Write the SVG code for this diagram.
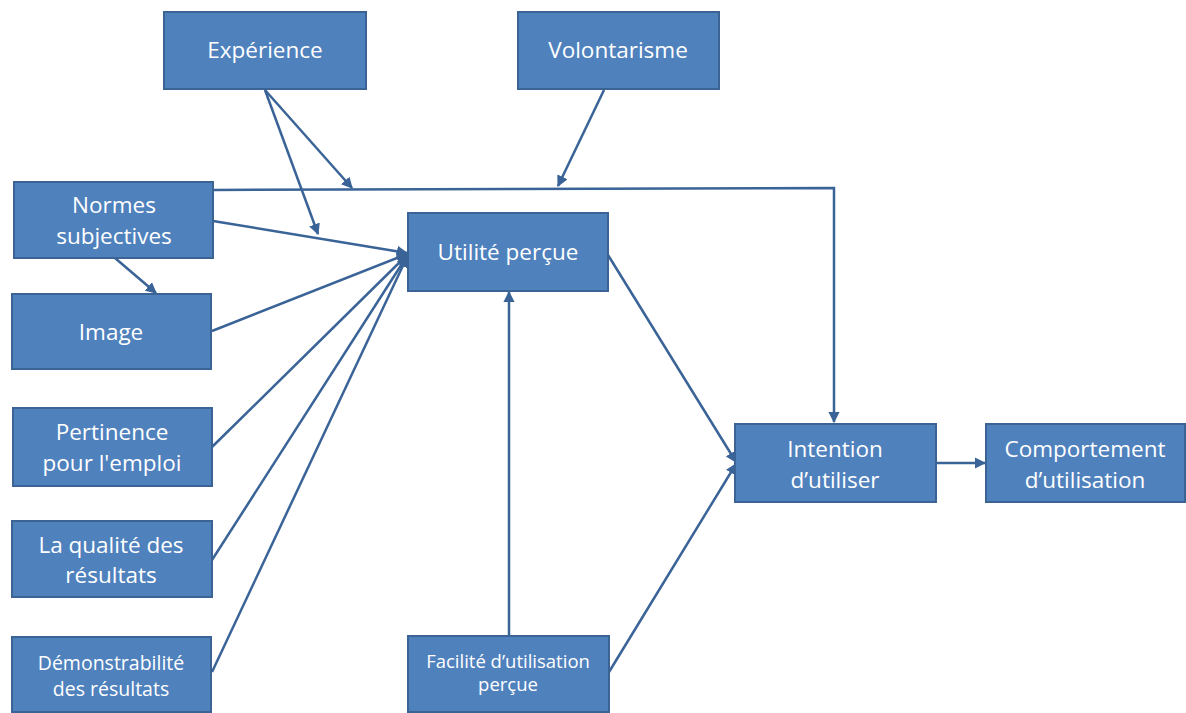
<svg xmlns="http://www.w3.org/2000/svg" width="1186" height="713" viewBox="0 0 1186 713">
<defs>
<marker id="ah" viewBox="0 0 10 10" refX="9" refY="5" markerWidth="4.5" markerHeight="4.5" orient="auto" markerUnits="strokeWidth">
<path d="M0,0 L10,5 L0,10 z" fill="#3A6397"/>
</marker>
</defs>
<style>
.box{fill:#4F81BD;stroke:#3B6494;stroke-width:2}
.t{fill:#ffffff;font-family:"Open Sans","Liberation Sans",sans-serif;font-size:22.5px;text-anchor:middle}
.s{font-size:18.5px}
.d{font-size:19.5px}
.c{fill:none;stroke:#3A6397;stroke-width:2.5}
.a{marker-end:url(#ah)}
</style>
<rect width="1186" height="713" fill="#ffffff"/>
<g id="connectors">
<line class="c a" x1="265" y1="90" x2="352" y2="188"/>
<line class="c a" x1="265" y1="90" x2="318" y2="234"/>
<line class="c a" x1="604" y1="90" x2="558" y2="186"/>
<polyline class="c a" points="213,190 834,188 834,422"/>
<line class="c a" x1="213" y1="221" x2="407" y2="253"/>
<line class="c a" x1="115" y1="258" x2="156" y2="293"/>
<line class="c a" x1="212" y1="331" x2="407" y2="254"/>
<line class="c a" x1="212" y1="447" x2="407" y2="255"/>
<line class="c a" x1="212" y1="560" x2="407" y2="256"/>
<line class="c a" x1="212" y1="672" x2="407" y2="257"/>
<line class="c a" x1="608" y1="255" x2="736" y2="462"/>
<line class="c a" x1="509" y1="636" x2="509" y2="292"/>
<line class="c a" x1="609" y1="672" x2="736" y2="464"/>
<line class="c a" x1="936" y1="463" x2="985" y2="463"/>
</g>
<g id="experience"><rect class="box" x="164" y="12" width="202" height="77"/><text class="t" x="265" y="58">Expérience</text></g>
<g id="volontarisme"><rect class="box" x="518" y="12" width="201" height="77"/><text class="t" x="618" y="58">Volontarisme</text></g>
<g id="normes"><rect class="box" x="14" y="182" width="199" height="76"/><text class="t" x="114" y="213">Normes</text><text class="t" x="114" y="244">subjectives</text></g>
<g id="image"><rect class="box" x="12" y="294" width="199" height="75"/><text class="t" x="111" y="340">Image</text></g>
<g id="pertinence"><rect class="box" x="13" y="408" width="199" height="78"/><text class="t" x="112" y="440">Pertinence</text><text class="t" x="112" y="471">pour l'emploi</text></g>
<g id="qualite"><rect class="box" x="12" y="521" width="200" height="76"/><text class="t" x="111" y="553">La qualité des</text><text class="t" x="111" y="583">résultats</text></g>
<g id="demonstrabilite"><rect class="box" x="12" y="637" width="199" height="75"/><text class="t d" x="111" y="670">Démonstrabilité</text><text class="t d" x="111" y="696">des résultats</text></g>
<g id="utilite"><rect class="box" x="408" y="213" width="200" height="78"/><text class="t" x="508" y="260">Utilité perçue</text></g>
<g id="facilite"><rect class="box" x="408" y="636" width="201" height="76"/><text class="t s" x="508" y="668">Facilité d’utilisation</text><text class="t s" x="508" y="691">perçue</text></g>
<g id="intention"><rect class="box" x="735" y="424" width="201" height="78"/><text class="t" x="835" y="457">Intention</text><text class="t" x="835" y="488">d’utiliser</text></g>
<g id="comportement"><rect class="box" x="986" y="424" width="199" height="78"/><text class="t" x="1085" y="457">Comportement</text><text class="t" x="1085" y="488">d’utilisation</text></g>
</svg>
